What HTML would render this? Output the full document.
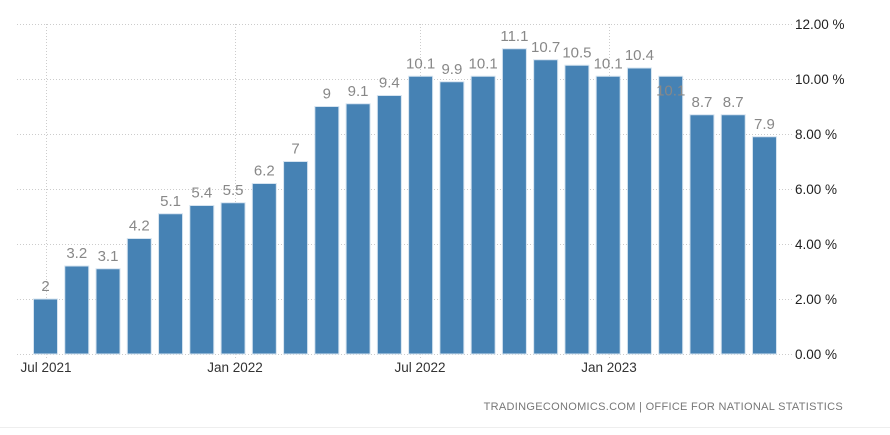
<!DOCTYPE html>
<html><head><style>
body{margin:0;background:#fff;width:890px;height:430px;overflow:hidden;font-family:"Liberation Sans",sans-serif}
</style></head><body>
<svg width="890" height="430" xmlns="http://www.w3.org/2000/svg" font-family="Liberation Sans, sans-serif">
<g stroke="#ccc" stroke-dasharray="1,2" stroke-width="1">
<line x1="17" x2="792" y1="24.5" y2="24.5"/>
<line x1="17" x2="792" y1="79.5" y2="79.5"/>
<line x1="17" x2="792" y1="134.5" y2="134.5"/>
<line x1="17" x2="792" y1="189.5" y2="189.5"/>
<line x1="17" x2="792" y1="244.5" y2="244.5"/>
<line x1="17" x2="792" y1="299.5" y2="299.5"/>
<line x1="17" x2="792" y1="354.5" y2="354.5"/>
<line x1="46.5" x2="46.5" y1="24" y2="360"/>
<line x1="235.5" x2="235.5" y1="24" y2="360"/>
<line x1="420.5" x2="420.5" y1="24" y2="360"/>
<line x1="609.5" x2="609.5" y1="24" y2="360"/>
</g>
<g id="bars" fill="#4682b4" stroke="#d6e4f0" stroke-width="1"></g>
<g id="lbl" fill="#888" font-size="15" text-anchor="middle"></g>
<g fill="#222" font-size="13.5">
<text x="795" y="29">12.00 %</text>
<text x="795" y="84">10.00 %</text>
<text x="795" y="139">8.00 %</text>
<text x="795" y="194">6.00 %</text>
<text x="795" y="249">4.00 %</text>
<text x="795" y="304">2.00 %</text>
<text x="795" y="359">0.00 %</text>
</g>
<g fill="#333" font-size="13.5" text-anchor="middle">
<text x="46" y="372">Jul 2021</text>
<text x="235" y="372">Jan 2022</text>
<text x="420" y="372">Jul 2022</text>
<text x="609" y="372">Jan 2023</text>
</g>
<text x="843" y="410" fill="#777" font-size="11" text-anchor="end" letter-spacing="0.3">TRADINGECONOMICS.COM  |  OFFICE FOR NATIONAL STATISTICS</text>
<line x1="0" x2="890" y1="427.5" y2="427.5" stroke="#eee"/>
</svg>
<script>
var v=[2,3.2,3.1,4.2,5.1,5.4,5.5,6.2,7,9,9.1,9.4,10.1,9.9,10.1,11.1,10.7,10.5,10.1,10.4,10.1,8.7,8.7,7.9];
var b=document.getElementById('bars'),l=document.getElementById('lbl'),ns='http://www.w3.org/2000/svg';
v.forEach(function(d,i){var cx=45.5+i*31.26,top=354-d*27.5;
var r=document.createElementNS(ns,'rect');r.setAttribute('x',cx-12);r.setAttribute('y',top);r.setAttribute('width',24);r.setAttribute('height',354-top);b.appendChild(r);
var t=document.createElementNS(ns,'text');t.setAttribute('x',cx);t.setAttribute('y',i==20?top+19:top-8);t.textContent=d;l.appendChild(t);});
</script>
</body></html>
